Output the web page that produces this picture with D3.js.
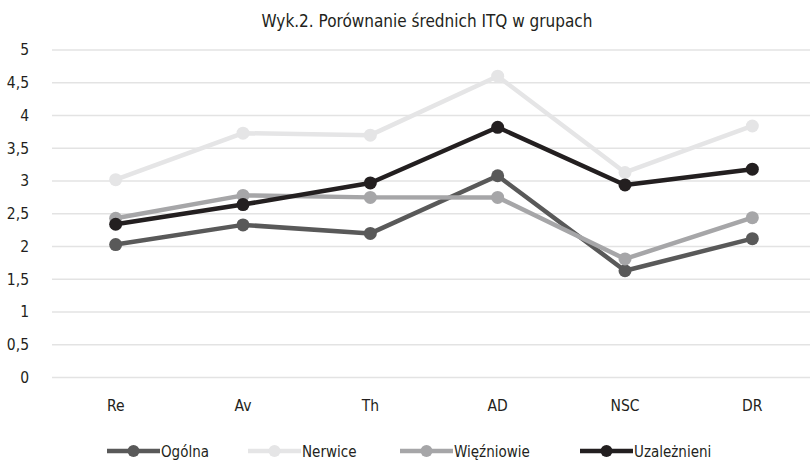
<!DOCTYPE html>
<html>
<head>
<meta charset="utf-8">
<script src="https://cdn.jsdelivr.net/npm/d3@7"></script>
<style>
  body { margin: 0; background: #fff; }
  text { font-family: "DejaVu Sans Condensed", sans-serif; fill: #231f20; }
</style>
</head>
<body>
<div id="chart"></div>
<script>
var categories = ['Re', 'Av', 'Th', 'AD', 'NSC', 'DR'];
var ogolna = [2.03, 2.33, 2.20, 3.08, 1.63, 2.12];
var nerwice = [3.02, 3.73, 3.70, 4.60, 3.13, 3.84];
var wiezniowie = [2.43, 2.78, 2.75, 2.75, 1.81, 2.44];
var uzaleznieni = [2.34, 2.64, 2.97, 3.82, 2.94, 3.18];
var yTicks = [0, 0.5, 1, 1.5, 2, 2.5, 3, 3.5, 4, 4.5, 5];

var series = [
  {name: 'Ogólna', values: ogolna, color: '#595959', lx: 107},
  {name: 'Nerwice', values: nerwice, color: '#e5e5e6', lx: 248},
  {name: 'Więźniowie', values: wiezniowie, color: '#a6a6a8', lx: 400},
  {name: 'Uzależnieni', values: uzaleznieni, color: '#231f20', lx: 580}
];

var width = 810, height = 462;
var fontFam = '"DejaVu Sans Condensed", sans-serif';
var svg = d3.select('#chart').append('svg')
    .attr('width', width)
    .attr('height', height);

var x = d3.scaleBand()
    .domain(categories)
    .range([52, 816]);

var y = d3.scaleLinear()
    .domain([0, 5])
    .range([377.5, 50]);

// title
svg.append('text')
    .attr('x', 427)
    .attr('y', 27)
    .attr('text-anchor', 'middle')
    .style('font-size', '17px')
    .text('Wyk.2. Porównanie średnich ITQ w grupach');

// gridlines
svg.append('g').selectAll('line')
    .data(yTicks)
    .enter().append('line')
    .attr('x1', 52)
    .attr('x2', width)
    .attr('y1', function(d) { return y(d); })
    .attr('y2', function(d) { return y(d); })
    .style('stroke', '#e3e3e3')
    .style('stroke-width', 1.5);

// y axis labels
var fmt = function(d) { return String(d).replace('.', ','); };
var yAxis = d3.axisLeft(y).tickValues(yTicks).tickFormat(fmt).tickSize(0).tickPadding(0);
var gy = svg.append('g')
    .attr('transform', 'translate(29,0)')
    .call(yAxis);
gy.select('.domain').remove();
gy.selectAll('text')
    .style('font-size', '15.5px')
    .style('font-family', fontFam)
    .style('fill', '#231f20');

// x axis labels
var xAxis = d3.axisBottom(x).tickSize(0).tickPadding(0);
var gx = svg.append('g')
    .attr('transform', 'translate(0,410.5)')
    .call(xAxis);
gx.select('.domain').remove();
gx.selectAll('text')
    .attr('y', 0)
    .attr('dy', 0)
    .style('font-size', '15.5px')
    .style('font-family', fontFam)
    .style('fill', '#231f20');

var line = d3.line()
    .x(function(d, i) { return x(categories[i]) + x.bandwidth() / 2; })
    .y(function(d) { return y(d); });

// lines, drawn so the darkest sits on top
series.forEach(function(s) {
  var g = svg.append('g');
  g.append('path')
      .datum(s.values)
      .attr('d', line)
      .style('fill', 'none')
      .style('stroke', s.color)
      .style('stroke-width', 4.5)
      .style('stroke-linejoin', 'round');
  g.selectAll('circle')
      .data(s.values)
      .enter().append('circle')
      .attr('cx', function(d, i) { return x(categories[i]) + x.bandwidth() / 2; })
      .attr('cy', function(d) { return y(d); })
      .attr('r', 6.5)
      .style('fill', s.color);
});

// legend
var leg = svg.append('g').selectAll('g')
    .data(series)
    .enter().append('g')
    .attr('transform', function(d) { return 'translate(' + d.lx + ',451)'; });
leg.append('line')
    .attr('x1', 0).attr('x2', 53)
    .attr('y1', 0).attr('y2', 0)
    .style('stroke', function(d) { return d.color; })
    .style('stroke-width', 4.5);
leg.append('circle')
    .attr('cx', 26.5).attr('cy', 0).attr('r', 6)
    .style('fill', function(d) { return d.color; });
leg.append('text')
    .attr('x', 54)
    .attr('y', 6)
    .style('font-size', '15px')
    .text(function(d) { return d.name; });
</script>
</body>
</html>
